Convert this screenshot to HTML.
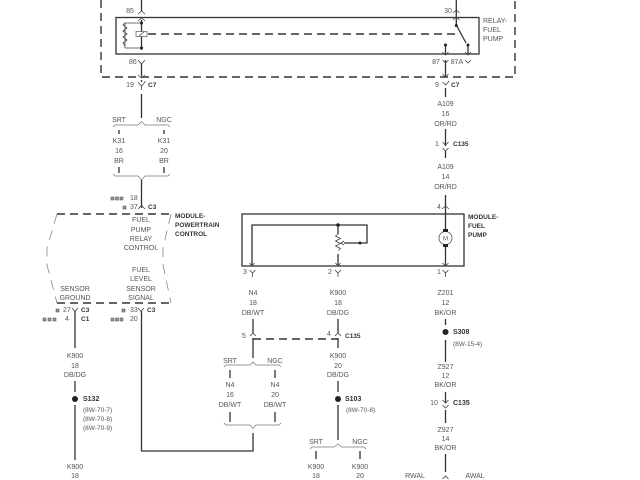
<!DOCTYPE html>
<html><head><meta charset="utf-8"><style>
html,body{margin:0;padding:0;background:#fff}
svg{display:block;filter:blur(.35px)}
text{font-family:"Liberation Sans",sans-serif;font-size:7px;fill:#555}
.m{text-anchor:middle}
.b{font-weight:bold;fill:#333;font-size:6.5px}
.w{stroke:#333;stroke-width:1.3;fill:none}
.t{stroke:#444;stroke-width:.8;fill:none}
.g{stroke:#777;stroke-width:.7;fill:none}
.d{stroke:#333;stroke-width:1.4;fill:none;stroke-dasharray:8 5}
.k{fill:#222}
</style></head><body>
<svg width="640" height="480" viewBox="0 0 640 480" xmlns="http://www.w3.org/2000/svg">
<!-- outer relay dashed -->
<path class="d" d="M101 0V77H515V0"/>
<rect x="116" y="17.5" width="363" height="36.5" class="w"/>
<path class="d" d="M148 34H456" stroke-width="1.1"/>
<!-- relay coil -->
<path class="w" d="M141.500 0V11M141.500 20V50M141.500 64V76M141.500 80V82M141.500 94V118"/>
<path class="t" d="M138 14l3.500-3 3.500 3M138 60l3.500 4 3.500-4M138 82l3.500 4 3.500-4V81M141.500 86V90M138 21l3.500-3 3.500 3M138 75l3.500 3 3.500-3"/>
<path class="t" d="M141 23H125V48H141M125 23l-2 2 4 3-4 3 4 3-4 3 4 3-4 3 2 3"/>
<circle class="k" cx="141.500" cy="23" r="1.500"/><circle class="k" cx="141.500" cy="48" r="1.500"/>
<rect x="136" y="31.500" width="11" height="5" fill="#fff" stroke="#555" stroke-width=".7"/>
<path class="t" d="M139 36l5-4"/>
<text x="130" y="13" class="m">85</text><text x="129" y="64">86</text>
<text x="130" y="87" class="m">19</text><text x="148" y="87" class="b">C7</text>
<!-- relay contacts -->
<path class="w" d="M456.300 0V25L466 43M445.500 46V54M468 45V54M445.500 60V76M445.500 88V97"/>
<circle class="k" cx="456.300" cy="25.500" r="1.500"/><circle class="k" cx="445.500" cy="45" r="1.500"/><circle class="k" cx="468" cy="45" r="1.500"/>
<path class="t" d="M453 13l3.300-3 3.300 3M453 20l3.300-3 3.300 3M442.500 52l3 3 3-3M465 52l3 3 3-3M442.500 60l3 3 3-3M465 60l3 3 3-3M442.500 74l3 3 3-3M442.500 82l3 3 3-3V81"/>
<text x="448" y="13" class="m">30</text>
<text x="436" y="64" class="m">87</text><text x="457" y="64" class="m">87A</text>
<text x="437" y="87" class="m">9</text><text x="451" y="87" class="b">C7</text>
<text x="483" y="23">RELAY-</text><text x="483" y="32">FUEL</text><text x="483" y="41">PUMP</text>
<!-- A109 stack -->
<text x="445.500" y="106" class="m">A109</text><text x="445.500" y="116" class="m">16</text><text x="445.500" y="126" class="m">OR/RD</text>
<path class="w" d="M445.500 129V146M445.500 151V158M445.500 195V207"/>
<path class="t" d="M442.500 142l3 3 3-3M442.500 148l3 3 3-3"/>
<text x="437" y="146" class="m">1</text><text x="453" y="146" class="b">C135</text>
<text x="445.500" y="169" class="m">A109</text><text x="445.500" y="179" class="m">14</text><text x="445.500" y="189" class="m">OR/RD</text>
<text x="439" y="209" class="m">4</text>
<path class="t" d="M442 209l3.500-3 3.500 3"/>
<!-- SRT / NGC brace -->
<text x="119" y="122" class="m">SRT</text><text x="164" y="122" class="m">NGC</text>
<path class="g" d="M113 127l2-2H138l3.500-3.500 3.500 3.500H168l2 2M113 174l2 2H138l3.500 4 3.500-4H168l2-2"/>
<path class="w" d="M119 130V134M164 130V134M119 167V173M164 167V173M141.500 180V208"/>
<text x="119" y="143" class="m">K31</text><text x="164" y="143" class="m">K31</text>
<text x="119" y="153" class="m">16</text><text x="164" y="153" class="m">20</text>
<text x="119" y="163" class="m">BR</text><text x="164" y="163" class="m">BR</text>
<g fill="#999" stroke="#444" stroke-width=".5"><rect x="111" y="197" width="3" height="3"/><rect x="115.500" y="197" width="3" height="3"/><rect x="120" y="197" width="3" height="3"/><rect x="123" y="206" width="3" height="3"/></g>
<text x="130" y="200">18</text><text x="130" y="209">37</text>
<path class="t" d="M138 209l3.500-3.500 3.500 3.500"/><text x="148" y="209" class="b">C3</text>
<!-- PCM -->
<path class="d" d="M57 214H172M57 303H172" stroke-width="1.100"/>
<path class="g" d="M57 214L47 248V265L57 303M171 214L163 248V265L171 303" stroke-dasharray="10 7"/>
<text x="175" y="218" class="b">MODULE-</text><text x="175" y="227" class="b">POWERTRAIN</text><text x="175" y="236" class="b">CONTROL</text>
<text x="141" y="222" class="m">FUEL</text><text x="141" y="232" class="m">PUMP</text><text x="141" y="241" class="m">RELAY</text><text x="141" y="250" class="m">CONTROL</text>
<text x="141" y="272" class="m">FUEL</text><text x="141" y="281" class="m">LEVEL</text><text x="141" y="291" class="m">SENSOR</text><text x="141" y="300" class="m">SIGNAL</text>
<text x="75" y="291" class="m">SENSOR</text><text x="75" y="300" class="m">GROUND</text>
<g fill="#999" stroke="#444" stroke-width=".5"><rect x="56" y="309" width="3" height="3"/><rect x="43" y="318" width="3" height="3"/><rect x="48" y="318" width="3" height="3"/><rect x="53" y="318" width="3" height="3"/><rect x="122" y="309" width="3" height="3"/><rect x="111" y="318" width="3" height="3"/><rect x="115.500" y="318" width="3" height="3"/><rect x="120" y="318" width="3" height="3"/></g>
<text x="63" y="312">27</text><text x="67" y="321" class="m">4</text><text x="81" y="312" class="b">C3</text><text x="81" y="321" class="b">C1</text>
<text x="130" y="312">33</text><text x="130" y="321">20</text><text x="147" y="312" class="b">C3</text>
<path class="t" d="M72 308l3 3.500 3-3.500M138 308l3 3.500 3-3.500"/>
<path class="w" d="M75 311V348M75 381V392M75 405V460M141.500 311V451H253V433M253 338V358"/>
<text x="75" y="358" class="m">K900</text><text x="75" y="368" class="m">18</text><text x="75" y="377" class="m">DB/DG</text>
<circle class="k" cx="75" cy="399" r="3"/>
<text x="83" y="401" class="b" style="font-size:7px">S132</text>
<text x="83" y="412" style="font-size:6.500px">(8W-70-7)</text><text x="83" y="421" style="font-size:6.500px">(8W-70-8)</text><text x="83" y="430" style="font-size:6.500px">(8W-70-9)</text>
<text x="75" y="469" class="m">K900</text><text x="75" y="478" class="m">18</text>
<!-- Fuel pump module -->
<rect x="242" y="214" width="222" height="52" class="w"/>
<path class="w" d="M252 266V225H367V243H344M338 225V234M338 254V266M445.500 207V230M445.500 246V266"/>
<circle class="k" cx="338" cy="225" r="1.800"/><circle class="k" cx="360" cy="243" r="1.500"/>
<path class="t" d="M338 234l-2.500 2 5 2.500-5 2.500 5 2.500-5 2.500 5 2.500-2.500 2M344 241l-3 2 3 2M249.500 263l2.500 3 2.500-3M335.500 263l2.500 3 2.500-3M442.500 263l3 3 3-3"/>
<circle cx="445.500" cy="238" r="6.500" fill="#fff" stroke="#555" stroke-width=".8"/>
<text x="445.500" y="240.500" class="m" style="font-size:6px">M</text>
<rect x="443" y="229" width="5" height="3" class="k"/><rect x="443" y="244" width="5" height="3" class="k"/>
<text x="468" y="219" class="b">MODULE-</text><text x="468" y="228" class="b">FUEL</text><text x="468" y="237" class="b">PUMP</text>
<text x="245" y="274" class="m">3</text><text x="330" y="274" class="m">2</text><text x="439" y="274" class="m">1</text>
<path class="t" d="M249.500 270l3 3 3-3M252.500 273V277M335 270l3 3 3-3M338 273V277M442.500 270l3 3 3-3M445.500 273V277"/>
<text x="253" y="295" class="m">N4</text><text x="253" y="305" class="m">18</text><text x="253" y="315" class="m">DB/WT</text>
<text x="338" y="295" class="m">K900</text><text x="338" y="305" class="m">18</text><text x="338" y="315" class="m">DB/DG</text>
<text x="445.500" y="295" class="m">Z201</text><text x="445.500" y="305" class="m">12</text><text x="445.500" y="315" class="m">BK/OR</text>
<path class="w" d="M253 319V333M338 319V333M338 338V348M445.500 319V325M445.500 340V362"/>
<path class="t" d="M250 336l3-3 3 3M335 336l3-3 3 3"/>
<path class="d" d="M253 339H338" stroke-width="1"/>
<text x="244" y="338" class="m">5</text><text x="329" y="336" class="m">4</text><text x="345" y="338" class="b">C135</text>
<circle class="k" cx="445.500" cy="332" r="3"/>
<text x="453" y="334" class="b" style="font-size:7px">S308</text>
<text x="453" y="346" style="font-size:6.500px">(8W-15-4)</text>
<!-- bottom center -->
<text x="230" y="363" class="m">SRT</text><text x="275" y="363" class="m">NGC</text>
<path class="g" d="M224 367l2-2H250l3-3 3 3H279l2 2M224 423l2 2H250l3 3.500 3-3.500H279l2-2"/>
<path class="w" d="M230 370V378M275 370V378M230 412V422M275 412V422"/>
<text x="230" y="387" class="m">N4</text><text x="275" y="387" class="m">N4</text>
<text x="230" y="397" class="m">16</text><text x="275" y="397" class="m">20</text>
<text x="230" y="407" class="m">DB/WT</text><text x="275" y="407" class="m">DB/WT</text>
<text x="338" y="358" class="m">K900</text><text x="338" y="368" class="m">20</text><text x="338" y="377" class="m">DB/DG</text>
<path class="w" d="M338 381V392M338 405V440"/>
<circle class="k" cx="338" cy="399" r="3"/>
<text x="345" y="401" class="b" style="font-size:7px">S103</text>
<text x="346" y="412" style="font-size:6.500px">(8W-70-8)</text>
<text x="316" y="444" class="m">SRT</text><text x="360" y="444" class="m">NGC</text>
<path class="g" d="M310 449l2-2H334l4-3 4 3H364l2 2"/>
<path class="w" d="M316 451V459M360 451V459"/>
<text x="316" y="469" class="m">K900</text><text x="360" y="469" class="m">K900</text>
<text x="316" y="478" class="m">18</text><text x="360" y="478" class="m">20</text>
<!-- right bottom -->
<text x="445.500" y="369" class="m">Z927</text><text x="445.500" y="378" class="m">12</text><text x="445.500" y="387" class="m">BK/OR</text>
<path class="w" d="M445.500 392V403M445.500 410V423M445.500 454V472"/>
<path class="t" d="M442.500 400l3 3 3-3M442.500 405l3 3 3-3"/>
<text x="434" y="405" class="m">10</text><text x="453" y="405" class="b" style="font-size:7px">C135</text>
<text x="445.500" y="432" class="m">Z927</text><text x="445.500" y="441" class="m">14</text><text x="445.500" y="450" class="m">BK/OR</text>
<text x="415" y="478" class="m">RWAL</text><text x="475" y="478" class="m">AWAL</text>
<path class="t" d="M442.500 479l3-3 3 3"/>
</svg>
</body></html>
